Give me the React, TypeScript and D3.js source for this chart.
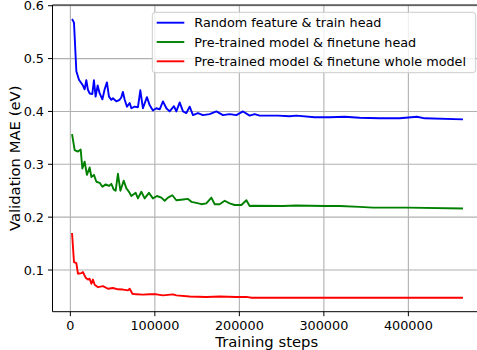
import * as d3 from 'd3'

// validation curves (step, MAE in eV)
const randomSteps = [2000, 4300, 7100, 10200, 14900, 16900, 18900, 20800, 22800, 26000, 27900, 29900, 32300, 34700, 37900, 40600, 43300, 45700, 48500, 50400, 54400, 58300, 60400, 62200, 64300, 67000, 70200, 72200, 76100, 80000, 82800, 85900, 90600, 93800, 97700, 101800, 105700, 109600, 113600, 117500, 122600, 125400, 129300, 133300, 137300, 141200, 145100, 151000, 156900, 164800, 172800, 180600, 188500, 196400, 204300, 212200, 218100, 224000, 245700, 259500, 267400, 289100, 306900, 324600, 342300, 366000, 389700, 410200, 419300, 464600]
const randomMae = [0.575, 0.568, 0.476, 0.46, 0.449, 0.442, 0.459, 0.441, 0.434, 0.433, 0.459, 0.428, 0.449, 0.434, 0.423, 0.442, 0.455, 0.428, 0.422, 0.425, 0.419, 0.422, 0.427, 0.437, 0.422, 0.409, 0.416, 0.406, 0.409, 0.408, 0.44, 0.406, 0.427, 0.412, 0.402, 0.406, 0.404, 0.419, 0.406, 0.4, 0.41, 0.4, 0.417, 0.4, 0.397, 0.409, 0.393, 0.397, 0.393, 0.395, 0.4, 0.393, 0.395, 0.393, 0.4, 0.392, 0.395, 0.392, 0.392, 0.391, 0.392, 0.389, 0.389, 0.39, 0.388, 0.387, 0.387, 0.39, 0.387, 0.385]

const headSteps = [2000, 5100, 9000, 12200, 14200, 16900, 19600, 22800, 24900, 27900, 30800, 34700, 37900, 41800, 45700, 48500, 51200, 53600, 56300, 59200, 63100, 66300, 69300, 72200, 77300, 80000, 84000, 87900, 93000, 97700, 102500, 107700, 111600, 115500, 120700, 125400, 133300, 139200, 143200, 149100, 155000, 160900, 166900, 170800, 176700, 182600, 188500, 194400, 202400, 208300, 212200, 216100, 251600, 267400, 300900, 318700, 342300, 358100, 399500, 464600]
const headMae = [0.357, 0.327, 0.324, 0.328, 0.292, 0.305, 0.28, 0.294, 0.276, 0.28, 0.267, 0.265, 0.2575, 0.262, 0.259, 0.263, 0.2525, 0.25, 0.282, 0.25, 0.269, 0.2545, 0.248, 0.24, 0.246, 0.2355, 0.248, 0.2355, 0.246, 0.2355, 0.24, 0.237, 0.231, 0.237, 0.2415, 0.232, 0.2335, 0.2345, 0.229, 0.227, 0.2245, 0.226, 0.237, 0.2245, 0.2245, 0.231, 0.226, 0.223, 0.223, 0.232, 0.221, 0.2215, 0.221, 0.222, 0.221, 0.221, 0.2195, 0.218, 0.218, 0.2165]

const wholeSteps = [2000, 4300, 7100, 9000, 13000, 14900, 18100, 20800, 22800, 24900, 26700, 28800, 32700, 38600, 44500, 50400, 56300, 62200, 68200, 70200, 73400, 78100, 85900, 93800, 101800, 109600, 121400, 125400, 141200, 160900, 176700, 196400, 208300, 214600, 271400, 389700, 464600]
const wholeMae = [0.17, 0.115, 0.113, 0.093, 0.094, 0.096, 0.0855, 0.082, 0.0835, 0.074, 0.082, 0.072, 0.0675, 0.0695, 0.0645, 0.066, 0.0635, 0.063, 0.0615, 0.0645, 0.0552, 0.054, 0.0534, 0.054, 0.054, 0.052, 0.054, 0.052, 0.05, 0.0488, 0.05, 0.0488, 0.0492, 0.0476, 0.0475, 0.0475, 0.0475]

const labels = [
  'Random feature & train head',
  'Pre-trained model & finetune head',
  'Pre-trained model & finetune whole model',
]
const colors = ['#0000ff', '#008000', '#ff0000']
const xTicks = [0, 100000, 200000, 300000, 400000]
const yTicks = [0.1, 0.2, 0.3, 0.4, 0.5, 0.6]

const W = 477
const H = 350
const left = 52.5
const top = 5
const bottom = 311.7
const plotW = 430 // right spine falls just outside the picture
const font = '"DejaVu Sans", sans-serif'

// matplotlib-like 5% margins
function padded(lo: number, hi: number): [number, number] {
  const m = (hi - lo) * 0.05
  return [lo - m, hi + m]
}

export default function App() {
  const series = [
    { steps: randomSteps, mae: randomMae },
    { steps: headSteps, mae: headMae },
    { steps: wholeSteps, mae: wholeMae },
  ]
  const allSteps = series.flatMap(s => s.steps)
  const allMae = series.flatMap(s => s.mae)

  const x = d3
    .scaleLinear()
    .domain(padded(d3.min(allSteps)!, d3.max(allSteps)!))
    .range([left, left + plotW])
  const y = d3
    .scaleLinear()
    .domain(padded(d3.min(allMae)!, d3.max(allMae)!))
    .range([bottom, top])

  const line = d3
    .line<[number, number]>()
    .x(d => x(d[0]))
    .y(d => y(d[1]))

  return (
    <div style={{ position: 'fixed', left: 0, top: 0 }}>
      <svg width={W} height={H} style={{ display: 'block', overflow: 'hidden' }} fontFamily={font}>
        <rect width={W} height={H} fill="#fff" />
        <defs>
          <clipPath id="plot">
            <rect x={left} y={top} width={plotW} height={bottom - top} />
          </clipPath>
        </defs>

        {/* grid */}
        <g stroke="#b0b0b0" strokeWidth={1.1}>
          {xTicks.map(t => (
            <line key={t} x1={x(t)} x2={x(t)} y1={top} y2={bottom} />
          ))}
          {yTicks.map(t => (
            <line key={t} x1={left} x2={left + plotW} y1={y(t)} y2={y(t)} />
          ))}
        </g>

        {/* curves */}
        <g clipPath="url(#plot)" fill="none" strokeWidth={1.9} strokeLinejoin="round">
          {series.map((s, i) => (
            <path
              key={i}
              d={line(s.steps.map((st, j) => [st, s.mae[j]] as [number, number]))!}
              stroke={colors[i]}
            />
          ))}
        </g>

        {/* spines */}
        <g stroke="#000" strokeWidth={1} fill="none">
          <line x1={left} x2={left} y1={top} y2={bottom} />
          <line x1={left} x2={left + plotW} y1={bottom} y2={bottom} />
          <line x1={left} x2={left + plotW} y1={top} y2={top} />
        </g>

        {/* x axis */}
        <g fontSize={12.8} fill="#000" textAnchor="middle">
          {xTicks.map(t => (
            <g key={t}>
              <line x1={x(t)} x2={x(t)} y1={bottom} y2={bottom + 4.5} stroke="#000" />
              <text x={x(t)} y={329.5}>{String(t)}</text>
            </g>
          ))}
        </g>
        <text x={left + (W - left) / 2 + 2} y={347} textAnchor="middle" fontSize={14.8}>
          Training steps
        </text>

        {/* y axis */}
        <g fontSize={12.8} fill="#000" textAnchor="end">
          {yTicks.map(t => (
            <g key={t}>
              <line x1={left - 4.5} x2={left} y1={y(t)} y2={y(t)} stroke="#000" />
              <text x={44} y={y(t)} dy="0.36em">{t.toFixed(1)}</text>
            </g>
          ))}
        </g>
        <text
          transform={`translate(20, ${(top + bottom) / 2}) rotate(-90)`}
          textAnchor="middle"
          fontSize={14.8}
        >
          Validation MAE (eV)
        </text>

        {/* legend */}
        <g>
          <rect
            x={152.3}
            y={12.3}
            width={323.4}
            height={60.4}
            rx={3}
            fill="#fff"
            fillOpacity={0.8}
            stroke="#cccccc"
            strokeWidth={1}
          />
          {labels.map((lab, i) => {
            const ry = 22.7 + i * 19.3
            return (
              <g key={lab}>
                <line x1={156.7} x2={184.3} y1={ry} y2={ry} stroke={colors[i]} strokeWidth={1.9} />
                <text x={194.3} y={ry} dy="0.36em" fontSize={12.8}>
                  {lab}
                </text>
              </g>
            )
          })}
        </g>
      </svg>
    </div>
  )
}
